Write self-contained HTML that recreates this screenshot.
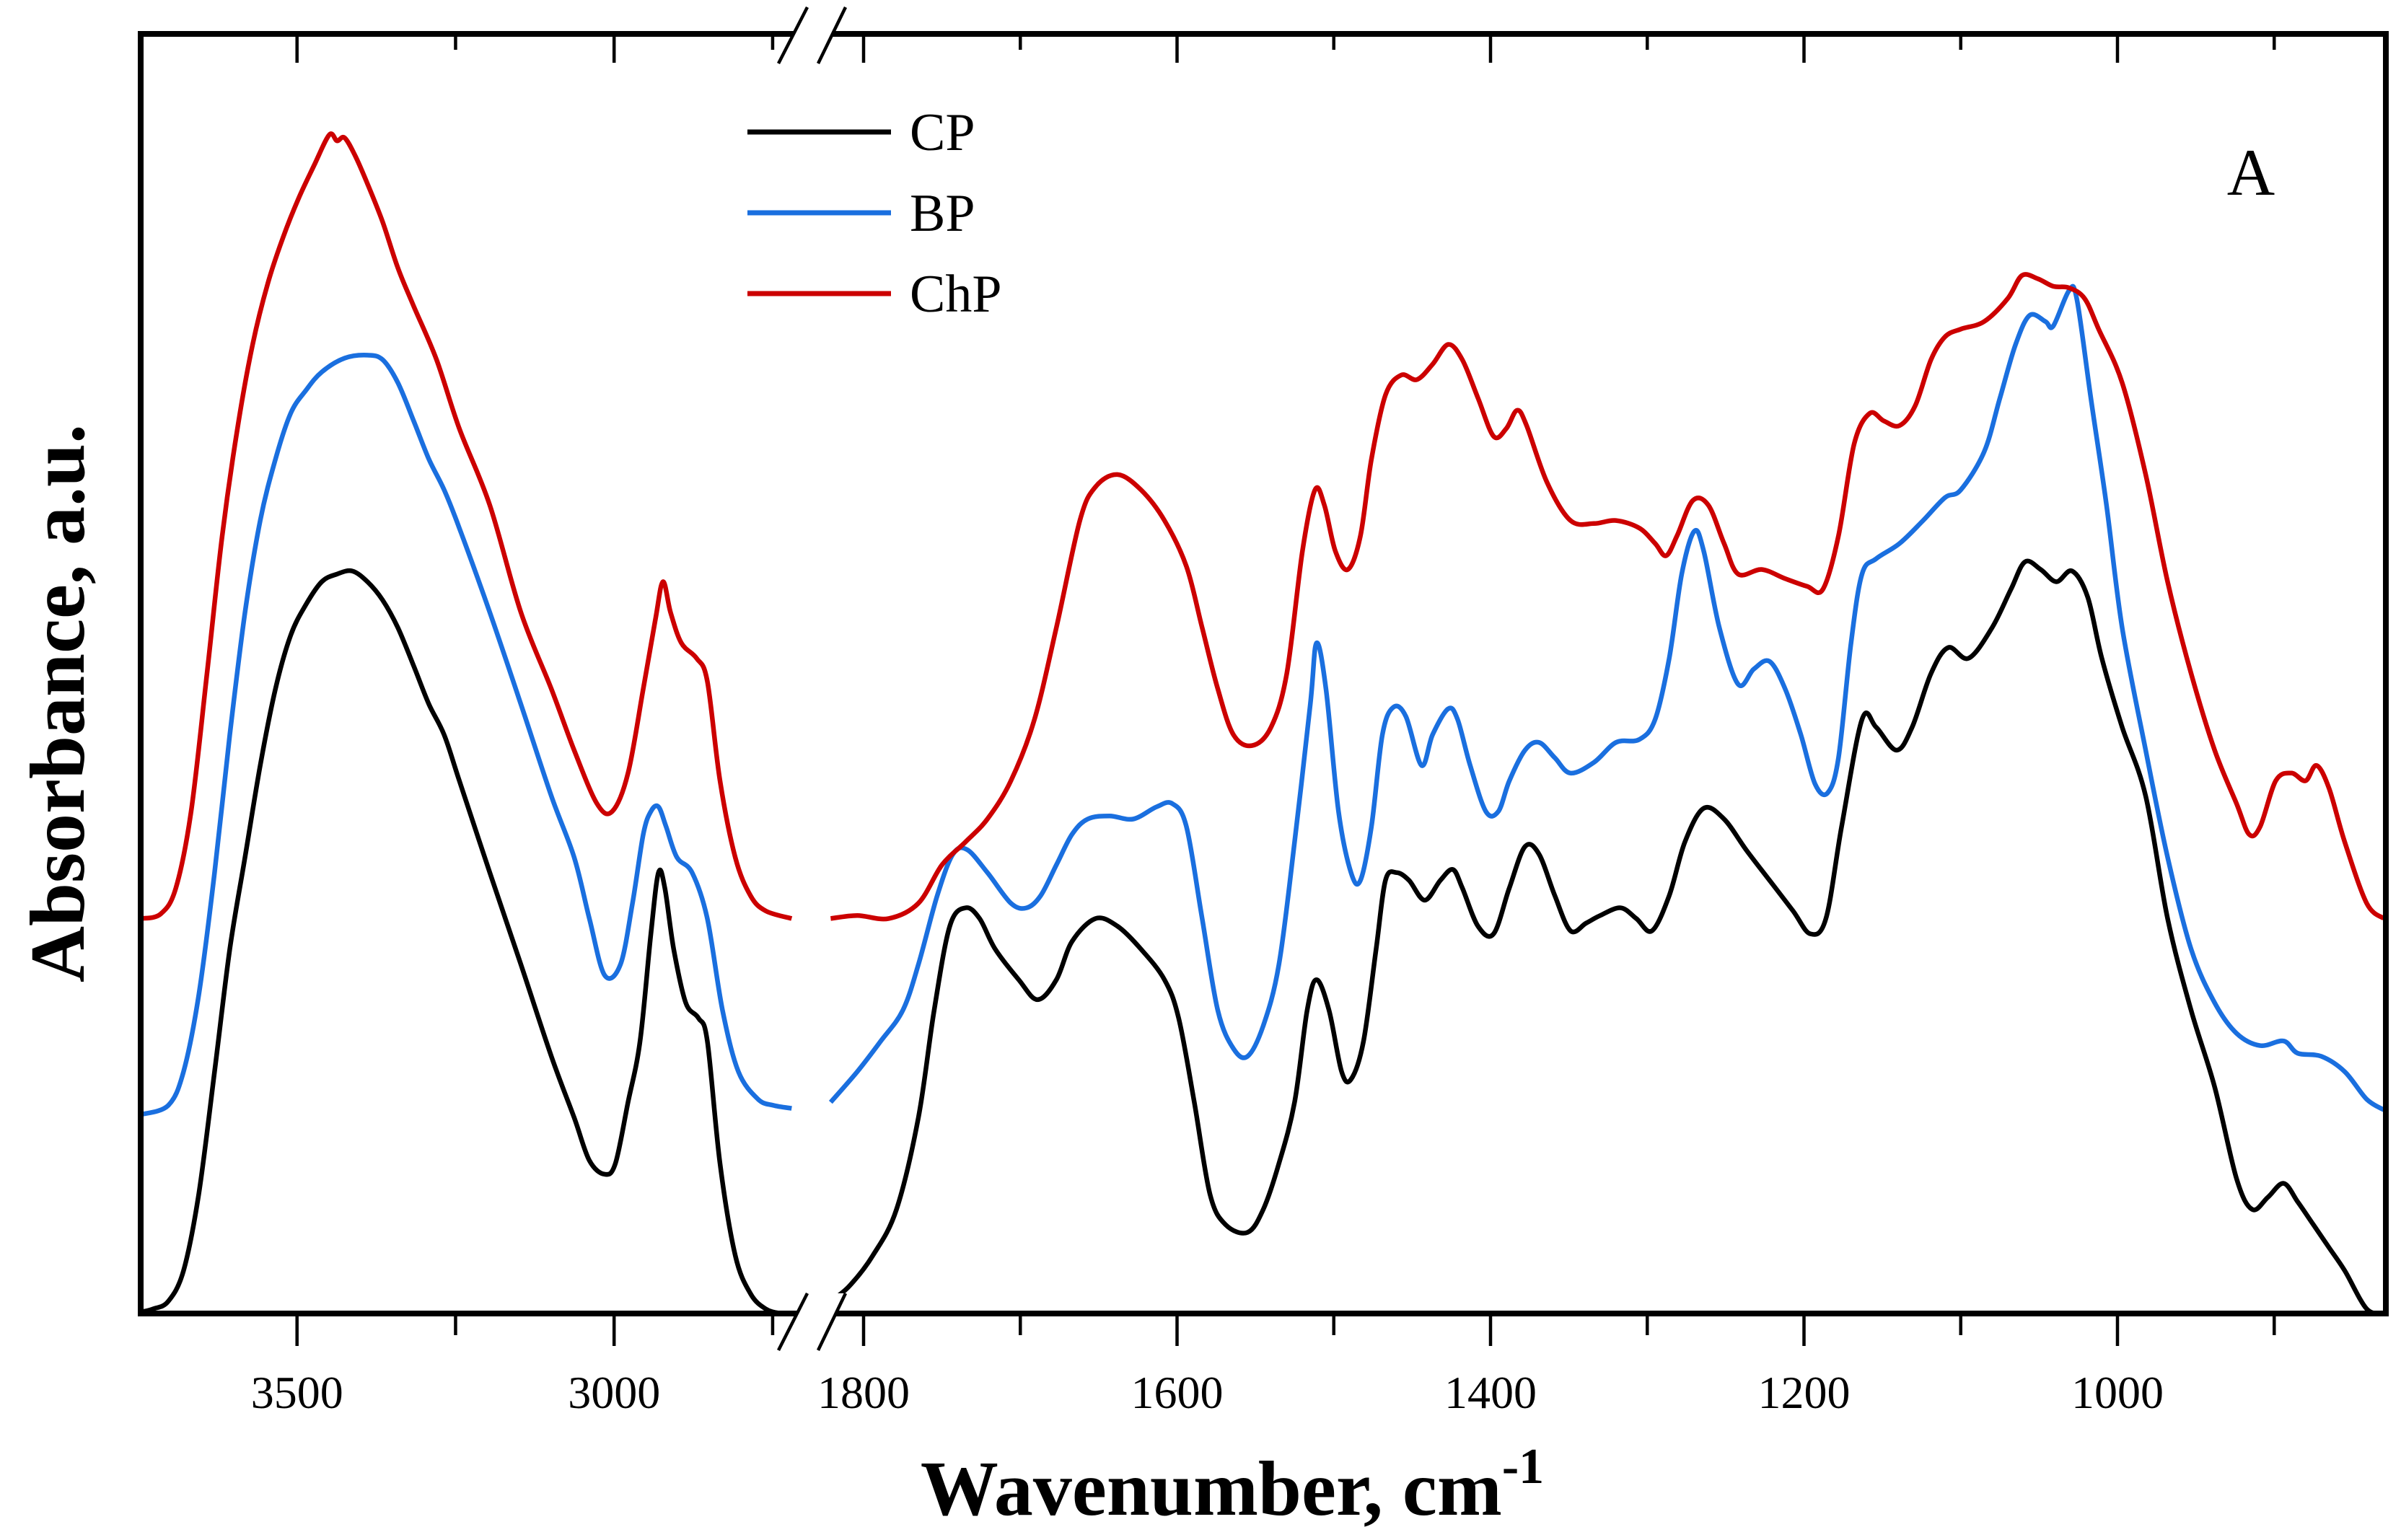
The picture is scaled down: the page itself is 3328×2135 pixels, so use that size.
<!DOCTYPE html>
<html><head><meta charset="utf-8"><style>
html,body{margin:0;padding:0;background:#fff;}
svg{display:block;}
text{font-family:"Liberation Serif",serif;}
</style></head><body>
<svg id="chart" width="3328" height="2135" viewBox="0 0 3328 2135" xmlns="http://www.w3.org/2000/svg">
<rect width="3328" height="2135" fill="#fff"/>
<g id="series"></g>
<g id="axes"></g>
</svg>
<script>
// ---- data ----
const seriesNames = ["CP","BP","ChP"];
const seriesColors = ["#000000","#1a6fdf","#cc0000"];
const cpLeftWn = [3746,3727,3703,3679,3655,3630,3606,3582,3558,3534,3510,3486,3461,3437,3413,3389,3365,3341,3316,3292,3268,3244,3196,3147,3099,3063,3039,3015,2998,2978,2959,2942,2930,2920,2906,2887,2867,2853,2833,2809,2785,2761,2737,2720];
const cpLeftAbs = [0.01,0.03,0.08,0.28,0.78,1.58,2.38,2.98,3.58,4.08,4.43,4.63,4.78,4.83,4.85,4.78,4.66,4.48,4.23,3.98,3.78,3.48,2.88,2.28,1.68,1.28,1.00,0.91,0.98,1.38,1.78,2.48,2.88,2.78,2.38,2.03,1.93,1.78,0.98,0.38,0.13,0.03,0,0];
const cpRightWn = [1821,1809,1794,1779,1765,1755,1745,1735,1726,1716,1701,1689,1677,1667,1652,1638,1623,1608,1599,1589,1579,1569,1555,1545,1535,1525,1517,1511,1503,1495,1489,1481,1473,1467,1460,1452,1442,1432,1424,1418,1408,1398,1388,1378,1369,1359,1349,1339,1330,1317,1307,1297,1286,1276,1264,1251,1237,1222,1207,1196,1186,1176,1163,1154,1141,1131,1119,1108,1095,1080,1068,1059,1049,1039,1029,1019,1010,997,982,968,953,938,924,914,904,894,885,875,865,855,841,830];
const cpRightAbs = [0.08,0.18,0.38,0.68,1.28,1.98,2.53,2.65,2.58,2.38,2.18,2.05,2.18,2.43,2.58,2.53,2.38,2.18,1.93,1.38,0.78,0.58,0.53,0.68,0.98,1.38,1.98,2.18,1.98,1.58,1.53,1.78,2.38,2.83,2.88,2.83,2.70,2.83,2.90,2.78,2.53,2.48,2.78,3.05,3.00,2.73,2.50,2.55,2.60,2.65,2.58,2.50,2.73,3.08,3.30,3.23,3.03,2.83,2.63,2.48,2.58,3.18,3.88,3.83,3.68,3.83,4.18,4.35,4.28,4.48,4.73,4.91,4.86,4.78,4.85,4.68,4.28,3.83,3.38,2.58,1.98,1.48,0.88,0.68,0.76,0.85,0.73,0.58,0.43,0.28,0.03,0.00];
const bpLeftWn = [3746,3703,3679,3655,3630,3606,3582,3558,3534,3510,3486,3461,3425,3389,3365,3341,3316,3292,3268,3244,3196,3147,3099,3063,3039,3015,2990,2971,2954,2942,2930,2918,2901,2877,2853,2829,2804,2773,2749,2720];
const bpLeftAbs = [1.30,1.36,1.58,2.08,2.88,3.78,4.58,5.18,5.58,5.88,6.03,6.15,6.24,6.26,6.23,6.08,5.83,5.58,5.38,5.13,4.58,3.98,3.38,2.98,2.58,2.21,2.28,2.68,3.13,3.28,3.31,3.18,2.98,2.88,2.58,1.98,1.58,1.40,1.36,1.34];
const bpRightWn = [1821,1804,1789,1775,1765,1753,1743,1734,1721,1706,1696,1687,1677,1667,1657,1643,1628,1613,1603,1594,1584,1574,1564,1555,1545,1535,1525,1515,1511,1505,1497,1489,1483,1476,1469,1462,1454,1444,1437,1427,1421,1413,1403,1395,1388,1378,1369,1359,1349,1334,1320,1305,1295,1286,1278,1270,1264,1254,1242,1232,1222,1212,1202,1193,1185,1178,1170,1163,1154,1139,1124,1110,1100,1085,1075,1065,1056,1046,1041,1031,1026,1017,1007,997,982,968,953,938,924,909,894,885,870,855,841,830];
const bpRightAbs = [1.38,1.58,1.78,1.98,2.28,2.73,3.00,3.03,2.88,2.68,2.65,2.73,2.93,3.13,3.23,3.25,3.23,3.31,3.33,3.18,2.58,1.98,1.73,1.68,1.88,2.28,3.08,3.98,4.38,4.08,3.28,2.88,2.83,3.18,3.78,3.96,3.90,3.58,3.78,3.95,3.88,3.58,3.28,3.28,3.48,3.68,3.73,3.63,3.53,3.60,3.73,3.75,3.88,4.28,4.83,5.11,4.98,4.48,4.11,4.21,4.26,4.08,3.78,3.46,3.40,3.63,4.38,4.83,4.93,5.03,5.18,5.33,5.38,5.63,5.98,6.33,6.52,6.48,6.45,6.68,6.63,5.98,5.28,4.48,3.68,2.98,2.38,2.03,1.83,1.75,1.78,1.70,1.68,1.58,1.40,1.33];
const chpLeftWn = [3746,3715,3691,3667,3642,3618,3594,3570,3546,3522,3498,3473,3449,3437,3425,3408,3389,3365,3341,3316,3280,3244,3196,3147,3099,3063,3027,3003,2978,2954,2935,2923,2911,2894,2870,2853,2833,2809,2785,2761,2720];
const chpLeftAbs = [2.58,2.61,2.78,3.28,4.18,5.08,5.78,6.33,6.73,7.03,7.28,7.50,7.70,7.66,7.68,7.56,7.38,7.13,6.83,6.58,6.23,5.78,5.28,4.58,4.08,3.68,3.33,3.28,3.53,4.08,4.53,4.78,4.58,4.38,4.28,4.13,3.48,2.98,2.73,2.63,2.58];
const chpRightWn = [1821,1804,1784,1765,1750,1735,1721,1706,1691,1677,1662,1652,1638,1623,1608,1594,1584,1574,1564,1552,1540,1530,1520,1512,1506,1499,1491,1483,1476,1467,1457,1447,1437,1427,1418,1408,1398,1390,1383,1377,1364,1349,1334,1320,1305,1295,1288,1281,1271,1261,1251,1242,1227,1212,1198,1188,1178,1168,1158,1149,1139,1129,1119,1110,1100,1085,1070,1061,1051,1041,1031,1021,1012,997,982,968,953,938,924,916,909,899,889,880,873,865,855,841,830];
const chpRightAbs = [2.58,2.60,2.58,2.68,2.93,3.08,3.23,3.48,3.88,4.48,5.18,5.40,5.48,5.38,5.18,4.88,4.48,4.08,3.78,3.71,3.83,4.18,4.98,5.38,5.28,4.98,4.86,5.08,5.58,6.00,6.13,6.10,6.20,6.33,6.23,5.98,5.73,5.78,5.90,5.80,5.43,5.18,5.16,5.18,5.13,5.03,4.95,5.08,5.31,5.28,5.03,4.83,4.86,4.80,4.75,4.73,5.08,5.68,5.88,5.83,5.80,5.93,6.23,6.38,6.43,6.48,6.63,6.78,6.76,6.71,6.70,6.63,6.43,6.08,5.48,4.78,4.18,3.68,3.33,3.13,3.18,3.48,3.53,3.48,3.58,3.43,3.08,2.68,2.58];
const leftTicks = [3500,3000];
const leftMinor = [3750,3250,2750];
const rightTicks = [1800,1600,1400,1200,1000];
const rightMinor = [1700,1500,1300,1100,900];

// ---- axes ----
const X0=195, X1=3307, Y0=47, Y1=1821;
function xLeft(w){ return 411.7 + (3500-w)*0.879; }
function xRight(w){ return 1197 + (1800-w)*2.1725; }
function yAbs(a){ return Y1 - a*212.24; }

const NS="http://www.w3.org/2000/svg";
const gS=document.getElementById('series');
const gA=document.getElementById('axes');
function mk(tag,attrs,parent){const e=document.createElementNS(NS,tag);for(const k in attrs)e.setAttribute(k,attrs[k]);parent.appendChild(e);return e;}

function smoothPath(pts){
  let d='M'+pts[0][0].toFixed(1)+','+pts[0][1].toFixed(1);
  for(let i=0;i<pts.length-1;i++){
    const p0=pts[i-1]||pts[i], p1=pts[i], p2=pts[i+1], p3=pts[i+2]||p2;
    const c1x=p1[0]+(p2[0]-p0[0])/6, c1y=p1[1]+(p2[1]-p0[1])/6;
    const c2x=p2[0]-(p3[0]-p1[0])/6, c2y=p2[1]-(p3[1]-p1[1])/6;
    d+='C'+c1x.toFixed(1)+','+c1y.toFixed(1)+' '+c2x.toFixed(1)+','+c2y.toFixed(1)+' '+p2[0].toFixed(1)+','+p2[1].toFixed(1);
  }
  return d;
}

const groups=[[cpLeftWn,cpLeftAbs,cpRightWn,cpRightAbs],[bpLeftWn,bpLeftAbs,bpRightWn,bpRightAbs],[chpLeftWn,chpLeftAbs,chpRightWn,chpRightAbs]];
groups.forEach((g,i)=>{
  [[g[0],g[1],xLeft],[g[2],g[3],xRight]].forEach((s,j)=>{
    const pts=s[0].map((w,k)=>[s[2](w),yAbs(s[1][k])]);
    const p=mk('path',{d:smoothPath(pts),fill:'none',stroke:seriesColors[i],'stroke-width':6.5,'stroke-linejoin':'round'},gS);
    
    
  });
});

// frame
const fr=mk('rect',{x:X0,y:Y0,width:X1-X0,height:Y1-Y0,fill:'none',stroke:'#000','stroke-width':8},gA);



function tick(x,major,label){
  const lenB=major?45:30, lenT=major?40:22;
  mk('line',{x1:x,y1:Y1,x2:x,y2:Y1+lenB,stroke:'#000','stroke-width':4.5},gA);
  mk('line',{x1:x,y1:Y0,x2:x,y2:Y0+lenT,stroke:'#000','stroke-width':4.5},gA);
  if(label!==undefined){
    const t=mk('text',{x:x,y:1952,'font-size':64,'text-anchor':'middle',fill:'#000'},gA);
    t.textContent=label;
    
    
  }
}
leftTicks.forEach(w=>tick(xLeft(w),true,w));
leftMinor.forEach(w=>{const x=xLeft(w); if(x>X0+5 && x<1100) tick(x,false);});
rightTicks.forEach(w=>tick(xRight(w),true,w));
rightMinor.forEach(w=>{const x=xRight(w); if(x<X1-5) tick(x,false);});

// axis breaks
[Y0,Y1].forEach(yy=>{
  const top = yy===Y0 ? 10 : 1793, bot = yy===Y0 ? 88 : 1872;
  mk('polygon',{points:`1119,${top} 1172,${top} 1134,${bot} 1079,${bot}`,fill:'#fff'},gA);
  const a=mk('line',{x1:1119,y1:top,x2:1079,y2:bot,stroke:'#000','stroke-width':4.5},gA);
  
  
  const b=mk('line',{x1:1172,y1:top,x2:1134,y2:bot,stroke:'#000','stroke-width':4.5},gA);
  
  
});

// legend
const legY=[183,295,407];
seriesNames.forEach((n,i)=>{
  const l=mk('line',{x1:1036,y1:legY[i],x2:1235,y2:legY[i],stroke:seriesColors[i],'stroke-width':7},gA);
  
  
  const t=mk('text',{x:1261,y:legY[i]+25,'font-size':74,fill:'#000'},gA);
  t.textContent=n;
  
  
});

// panel label
const pa=mk('text',{x:3120,y:270,'font-size':92,'text-anchor':'middle',fill:'#000'},gA);
pa.textContent='A';



// axis titles
const xt=mk('text',{x:1708,y:2100,'font-size':108,'font-weight':'bold','text-anchor':'middle',fill:'#000'},gA);
xt.innerHTML='Wavenumber, cm<tspan dy="-44" font-size="70">-1</tspan>';


const yt=mk('text',{x:0,y:0,'font-size':108,'font-weight':'bold','text-anchor':'middle',fill:'#000',transform:'translate(116,975) rotate(-90)'},gA);
yt.textContent='Absorbance, a.u.';


</script>
</body></html>
